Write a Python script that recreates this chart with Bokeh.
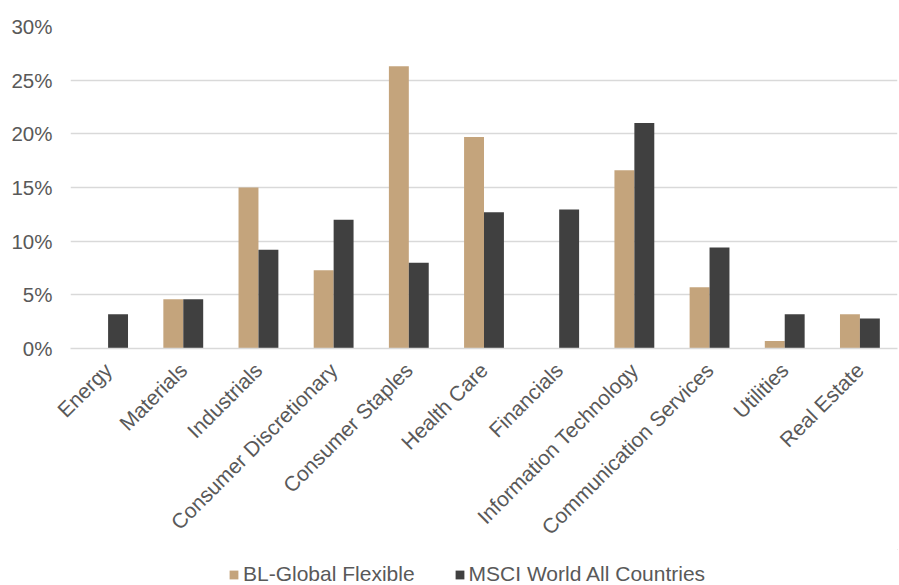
import math
from bokeh.plotting import figure
from bokeh.layouts import column
from bokeh.models import ColumnDataSource, FactorRange, Range1d, PrintfTickFormatter, Legend, LegendItem, FixedTicker
from bokeh.transform import dodge
from bokeh.embed import file_html
from bokeh.resources import INLINE

categories = ["Energy", "Materials", "Industrials", "Consumer Discretionary", "Consumer Staples",
              "Health Care", "Financials", "Information Technology", "Communication Services",
              "Utilities", "Real Estate"]
bl_global_flexible = [0.0, 4.6, 15.0, 7.3, 26.3, 19.7, 0.0, 16.6, 5.7, 0.7, 3.2]
msci_world_all = [3.2, 4.6, 9.2, 12.0, 8.0, 12.7, 12.95, 21.0, 9.4, 3.2, 2.8]
y_ticks = [0, 5, 10, 15, 20, 25, 30]
series_names = ["BL-Global Flexible", "MSCI World All Countries"]
series_colors = ["#C4A47C", "#404040"]

FONT = "Liberation Sans"
TXT = "#595959"

src = ColumnDataSource(dict(cat=categories, bl=bl_global_flexible, msci=msci_world_all))

p = figure(x_range=FactorRange(*categories), y_range=Range1d(0, 30),
           frame_width=827, frame_height=322, output_backend="svg", toolbar_location=None,
           min_border_left=70, min_border_right=2, min_border_top=26, min_border_bottom=200)
p.outline_line_color = None
p.background_fill_color = "white"

w = 0.265
p.vbar(x=dodge("cat", -w / 2, range=p.x_range), top="bl", width=w, source=src,
       fill_color=series_colors[0], line_color=None)
p.vbar(x=dodge("cat", w / 2, range=p.x_range), top="msci", width=w, source=src,
       fill_color=series_colors[1], line_color=None)

p.xgrid.grid_line_color = None
p.ygrid.grid_line_color = "#D9D9D9"
p.ygrid.grid_line_width = 1.5
p.yaxis.ticker = FixedTicker(ticks=y_ticks)
p.yaxis.formatter = PrintfTickFormatter(format="%d%%")
p.yaxis.axis_line_color = None
p.yaxis.major_tick_line_color = None
p.yaxis.minor_tick_line_color = None
p.yaxis.major_label_text_font = FONT
p.yaxis.major_label_text_font_size = "20.5px"
p.yaxis.major_label_text_color = TXT
p.yaxis.major_label_standoff = 12

p.xaxis.axis_line_color = "#D9D9D9"
p.xaxis.axis_line_width = 1.5
p.xaxis.major_tick_line_color = None
p.xaxis.minor_tick_line_color = None
p.xaxis.major_label_orientation = math.pi / 4
p.xaxis.major_label_text_font = FONT
p.xaxis.major_label_text_font_size = "21px"
p.xaxis.major_label_text_color = TXT
p.xaxis.major_label_standoff = 12

# legend strip below the chart (swatches only; its bars lie outside its ranges)
lg = figure(width=899, height=37, output_backend="svg", toolbar_location=None,
            x_axis_location=None, y_axis_location=None,
            min_border_left=0, min_border_right=0, min_border_top=0, min_border_bottom=0,
            x_range=Range1d(0, 1), y_range=Range1d(0, 1))
lg.outline_line_color = None
lg.xgrid.visible = False
lg.ygrid.visible = False
swatch = ColumnDataSource(dict(x=[5], top=[5]))
l1 = lg.vbar(x="x", top="top", bottom=4, width=0.1, source=swatch, fill_color=series_colors[0], line_color=None)
l2 = lg.vbar(x="x", top="top", bottom=4, width=0.1, source=swatch, fill_color=series_colors[1], line_color=None)
legend = Legend(items=[LegendItem(label=series_names[0], renderers=[l1]),
                       LegendItem(label=series_names[1], renderers=[l2])],
                orientation="horizontal", location=(158, 0),
                label_text_font=FONT, label_text_font_size="21px", label_text_color=TXT,
                glyph_width=11, glyph_height=11, spacing=39, label_standoff=4,
                border_line_color=None, background_fill_alpha=0, margin=0, padding=0)
lg.add_layout(legend, "center")

layout = column(p, lg, spacing=0)
open("out.html", "w").write(file_html(layout, INLINE))
